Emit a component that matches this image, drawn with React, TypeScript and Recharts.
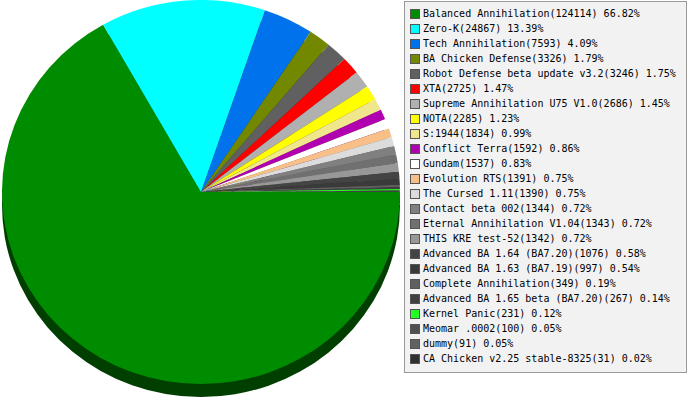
import { Pie, PieChart, Cell } from "recharts";

const names = [
  "Balanced Annihilation",
  "Zero-K",
  "Tech Annihilation",
  "BA Chicken Defense",
  "Robot Defense beta update v3.2",
  "XTA",
  "Supreme Annihilation U75 V1.0",
  "NOTA",
  "S:1944",
  "Conflict Terra",
  "Gundam",
  "Evolution RTS",
  "The Cursed 1.11",
  "Contact beta 002",
  "Eternal Annihilation V1.04",
  "THIS KRE test-52",
  "Advanced BA 1.64 (BA7.20)",
  "Advanced BA 1.63 (BA7.19)",
  "Complete Annihilation",
  "Advanced BA 1.65 beta (BA7.20)",
  "Kernel Panic",
  "Meomar .0002",
  "dummy",
  "CA Chicken v2.25 stable-8325",
];

const counts = [
  124114, 24867, 7593, 3326, 3246, 2725, 2686, 2285, 1834, 1592, 1537, 1391,
  1390, 1344, 1343, 1342, 1076, 997, 349, 267, 231, 100, 91, 31,
];

const percents = [
  "66.82", "13.39", "4.09", "1.79", "1.75", "1.47", "1.45", "1.23", "0.99",
  "0.86", "0.83", "0.75", "0.75", "0.72", "0.72", "0.72", "0.58", "0.54",
  "0.19", "0.14", "0.12", "0.05", "0.05", "0.02",
];

const colors = [
  "#008c00", "#00ffff", "#0072ec", "#728800", "#606060", "#ff0000",
  "#b0b0b0", "#ffff00", "#f0e68c", "#b000b0", "#ffffff", "#f8c088",
  "#dcdcdc", "#808080", "#707070", "#989898", "#444444", "#3a3a3a",
  "#606060", "#404040", "#22ff22", "#505050", "#626262", "#303030",
];

// darker shade for the 3D rim under the pie
function darken(hex: string) {
  const n = parseInt(hex.slice(1), 16);
  const r = Math.round(((n >> 16) & 255) * 0.45);
  const g = Math.round(((n >> 8) & 255) * 0.45);
  const b = Math.round((n & 255) * 0.45);
  return `rgb(${r},${g},${b})`;
}

const data = names.map((name, i) => ({ name, value: counts[i] }));

export default function App() {
  return (
    <div style={{ position: "absolute", left: 0, top: 0, width: 689, height: 400 }}>
      <div
        style={{
          position: "absolute",
          left: 2,
          top: 0,
          transform: "scaleY(0.965)",
          transformOrigin: "0 0",
        }}
      >
        <PieChart width={402} height={420}>
          <Pie
            data={data}
            dataKey="value"
            cx={194}
            cy={207.5}
            outerRadius={199}
            startAngle={0}
            endAngle={-360}
            stroke="none"
            isAnimationActive={false}
          >
            {data.map((_d, i) => (
              <Cell key={`rim-${i}`} fill={darken(colors[i])} />
            ))}
          </Pie>
          <Pie
            data={data}
            dataKey="value"
            cx={194}
            cy={194}
            outerRadius={199}
            startAngle={0}
            endAngle={-360}
            stroke="none"
            isAnimationActive={false}
          >
            {data.map((_d, i) => (
              <Cell key={`top-${i}`} fill={colors[i]} />
            ))}
          </Pie>
        </PieChart>
      </div>

      <div
        style={{
          position: "absolute",
          left: 404,
          top: 1,
          width: 281,
          height: 366,
          background: "#f2f2f2",
          border: "1px solid #999999",
          fontFamily: "'DejaVu Sans Mono', monospace",
          fontSize: 10,
          color: "#000000",
          paddingTop: 4,
          boxSizing: "content-box",
        }}
      >
        {names.map((name, i) => (
          <div
            key={name}
            style={{
              display: "flex",
              alignItems: "center",
              height: 15,
              whiteSpace: "nowrap",
            }}
          >
            <div
              style={{
                width: 8,
                height: 8,
                marginLeft: 5,
                marginRight: 3,
                background: colors[i],
                border: "1px solid #555555",
                flexShrink: 0,
              }}
            />
            {`${name}(${counts[i]}) ${percents[i]}%`}
          </div>
        ))}
      </div>
    </div>
  );
}
